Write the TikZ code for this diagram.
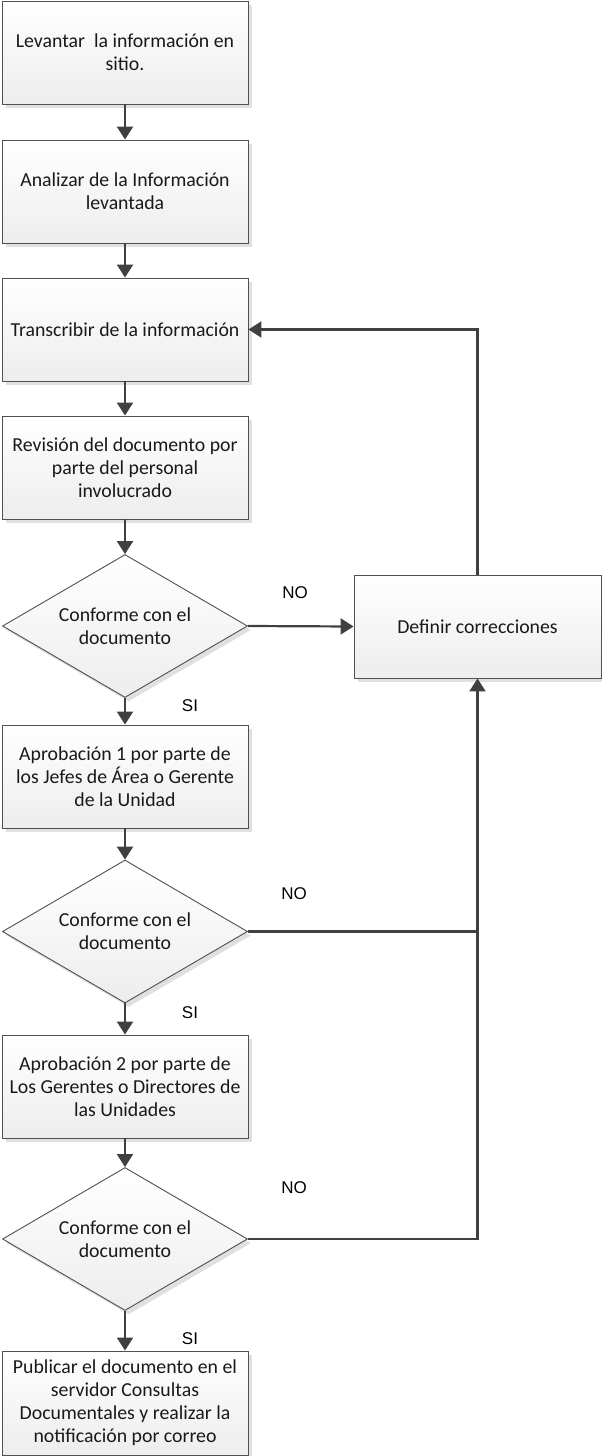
\documentclass[tikz,border=0pt]{standalone}
\usepackage{fontspec}
\setmainfont{Carlito}
\newfontfamily\labelfont{Liberation Sans}
\usetikzlibrary{shapes.geometric,arrows.meta,shadows}

\definecolor{edge}{HTML}{505050}
\definecolor{wire}{HTML}{404040}
\definecolor{shade}{HTML}{EDEDED}
\definecolor{shadowgray}{HTML}{E0E0E0}

\tikzset{
  base/.style={draw=edge, line width=0.9pt, top color=white, bottom color=shade,
    align=center, inner sep=0pt, text=black!90,
    font=\fontsize{19.8}{23}\selectfont,
    drop shadow={shadow xshift=3.5pt, shadow yshift=-4pt, fill=shadowgray, opacity=1}},
  stepbox/.style={base, rectangle, minimum width=246pt, minimum height=103pt},
  decision/.style={base, diamond, aspect=1.7, minimum width=245pt, minimum height=143pt},
  flow/.style={draw=wire, line width=2.2pt, line join=miter,
    -{Triangle[length=13pt,width=16pt]}},
  plain/.style={draw=wire, line width=2.2pt, line join=miter},
  lbl/.style={font=\labelfont\fontsize{17}{19}\selectfont, text=black}
}

\begin{document}
\begin{tikzpicture}[x=1pt, y=-1pt]
  \useasboundingbox (0,0) rectangle (602,1456);

  % main column
  \node[stepbox] (b1) at (125,52.5)  {Levantar\ \ la información en\\sitio.};
  \node[stepbox] (b2) at (125,191.5) {Analizar de la Información\\levantada};
  \node[stepbox] (b3) at (125,329.5) {Transcribir de la información};
  \node[stepbox] (b4) at (125,467.5) {Revisión del documento por\\parte del personal\\involucrado};
  \node[decision] (d1) at (125,626)  {Conforme con el\\documento};
  \node[stepbox] (b5) at (125,776.5) {Aprobación 1 por parte de\\los Jefes de Área o Gerente\\de la Unidad};
  \node[decision] (d2) at (125,931.5) {Conforme con el\\documento};
  \node[stepbox] (b6) at (125,1086.5) {Aprobación 2 por parte de\\Los Gerentes o Directores de\\las Unidades};
  \node[decision] (d3) at (125,1239) {Conforme con el\\documento};
  \node[stepbox, minimum height=104pt] (b7) at (125,1403) {Publicar el documento en el\\servidor Consultas\\Documentales y realizar la\\notificación por correo};

  % correction step
  \node[stepbox, minimum width=247pt] (fix) at (477.5,626.5) {Definir correcciones};

  % forward flow
  \draw[flow] (b1) -- (b2);
  \draw[flow] (b2) -- (b3);
  \draw[flow] (b3) -- (b4);
  \draw[flow] (b4) -- (d1);
  \draw[flow] (d1) -- (b5);
  \draw[flow] (b5) -- (d2);
  \draw[flow] (d2) -- (b6);
  \draw[flow] (b6) -- (d3);
  \draw[flow] (d3) -- (b7);

  % rejection paths
  \draw[flow] (d1.east) -- (fix.west);
  \draw[flow] (fix.north) |- (b3.east);
  \draw[plain] (d2.east) -- (fix.south |- d2.east);
  \draw[flow] (d3.east) -| (fix.south);

  % branch labels
  \node[lbl] (no1) at (295,593)  {NO};
  \node[lbl] (no2) at (294,894)  {NO};
  \node[lbl] (no3) at (294,1188) {NO};
  \node[lbl] (si1) at (190,706)  {SI};
  \node[lbl] (si2) at (190,1013) {SI};
  \node[lbl] (si3) at (190,1339) {SI};
\end{tikzpicture}
\end{document}
